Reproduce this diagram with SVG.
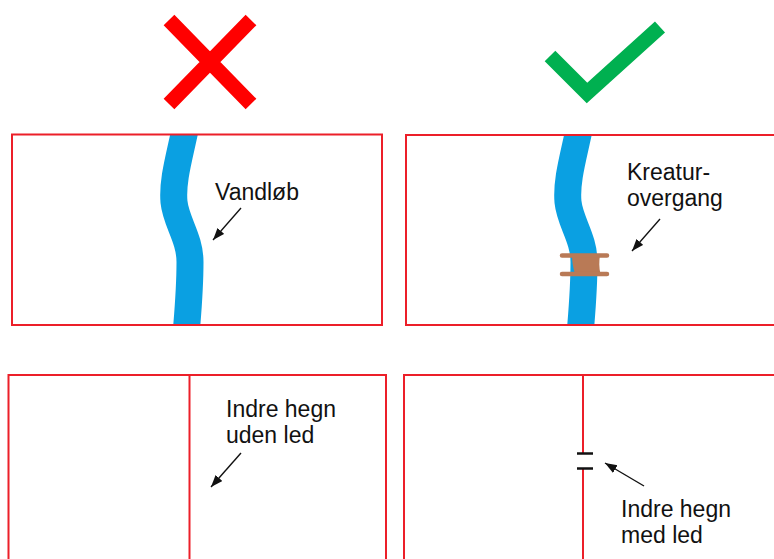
<svg xmlns="http://www.w3.org/2000/svg" width="774" height="559" viewBox="0 0 774 559">
  <style>
    .box { fill: none; stroke: #EC1F29; stroke-width: 2; }
    .fence { fill: none; stroke: #EC1F29; stroke-width: 2; }
    .river { fill: none; stroke: #0AA0E2; stroke-width: 27; }
    .label { font-family: "Liberation Sans", Arial, sans-serif; font-size: 23px; fill: #111; }
    .pointer { stroke: #111; stroke-width: 1.4; fill: none; marker-end: url(#head); }
    .gate { stroke: #111; stroke-width: 2.5; }
  </style>
  <defs>
    <marker id="head" markerUnits="userSpaceOnUse" markerWidth="13" markerHeight="10" refX="12" refY="4.5" orient="auto">
      <path d="M0,0 L12,4.5 L0,9 z" fill="#111"/>
    </marker>
    <clipPath id="field">
      <rect x="0" y="135" width="774" height="190"/>
    </clipPath>
    <path id="stream" d="M186,125 C180,155 172,180 174,202 C176,222 190,238 190,262 C190,290 188,310 186,335"/>
  </defs>

  <!-- wrong / right markers -->
  <g id="cross">
    <path d="M169,20 L251,104 M251,20 L169,104" stroke="#FF0000" stroke-width="15" fill="none"/>
  </g>
  <g id="check">
    <path d="M550,56 L587,93 L660,27" stroke="#00B050" stroke-width="15" fill="none" stroke-miterlimit="10"/>
  </g>

  <!-- top left: stream with no crossing -->
  <g id="stream-plain">
    <g clip-path="url(#field)">
      <use href="#stream" class="river"/>
    </g>
    <rect class="box" x="12" y="134.5" width="370" height="190.5"/>
    <text class="label" x="215" y="200">Vandløb</text>
  </g>

  <!-- top right: stream with cattle crossing -->
  <g id="stream-crossing">
    <g clip-path="url(#field)">
      <use href="#stream" class="river" transform="translate(394,0)"/>
    </g>
    <path d="M572,255 L600,255 C599,261 599,268 600.5,274 L575,274 C573,268 572,261 572,255 z" fill="#B97A56"/>
    <path d="M562,255.5 L607,255.5 M562,274 L607,274" stroke="#B97A56" stroke-width="4.5" stroke-linecap="round"/>
    <rect class="box" x="406" y="135" width="400" height="190"/>
    <text class="label" x="627" y="180">Kreatur-</text>
    <text class="label" x="627" y="206">overgang</text>
  </g>

  <!-- bottom left: inner fence without gate -->
  <g id="fence-plain">
    <rect class="box" x="8.5" y="375" width="377.5" height="300"/>
    <line class="fence" x1="189.5" y1="375" x2="189.5" y2="559"/>
    <text class="label" x="226" y="417">Indre hegn</text>
    <text class="label" x="226" y="443">uden led</text>
  </g>

  <!-- bottom right: inner fence with gate -->
  <g id="fence-gate">
    <rect class="box" x="404" y="375" width="400" height="300"/>
    <line class="fence" x1="583" y1="375" x2="583" y2="453"/>
    <line class="fence" x1="583" y1="469" x2="583" y2="559"/>
    <line class="gate" x1="577" y1="453.5" x2="593" y2="453.5"/>
    <line class="gate" x1="577" y1="468.5" x2="593" y2="468.5"/>
    <text class="label" x="621" y="517">Indre hegn</text>
    <text class="label" x="621" y="543">med led</text>
  </g>

  <!-- pointers from labels -->
  <g id="connectors">
    <line class="pointer" x1="241" y1="208" x2="213" y2="240"/>
    <line class="pointer" x1="660" y1="219" x2="632" y2="251"/>
    <line class="pointer" x1="241" y1="453" x2="211" y2="487"/>
    <line class="pointer" x1="644" y1="486" x2="605" y2="463"/>
  </g>
</svg>
